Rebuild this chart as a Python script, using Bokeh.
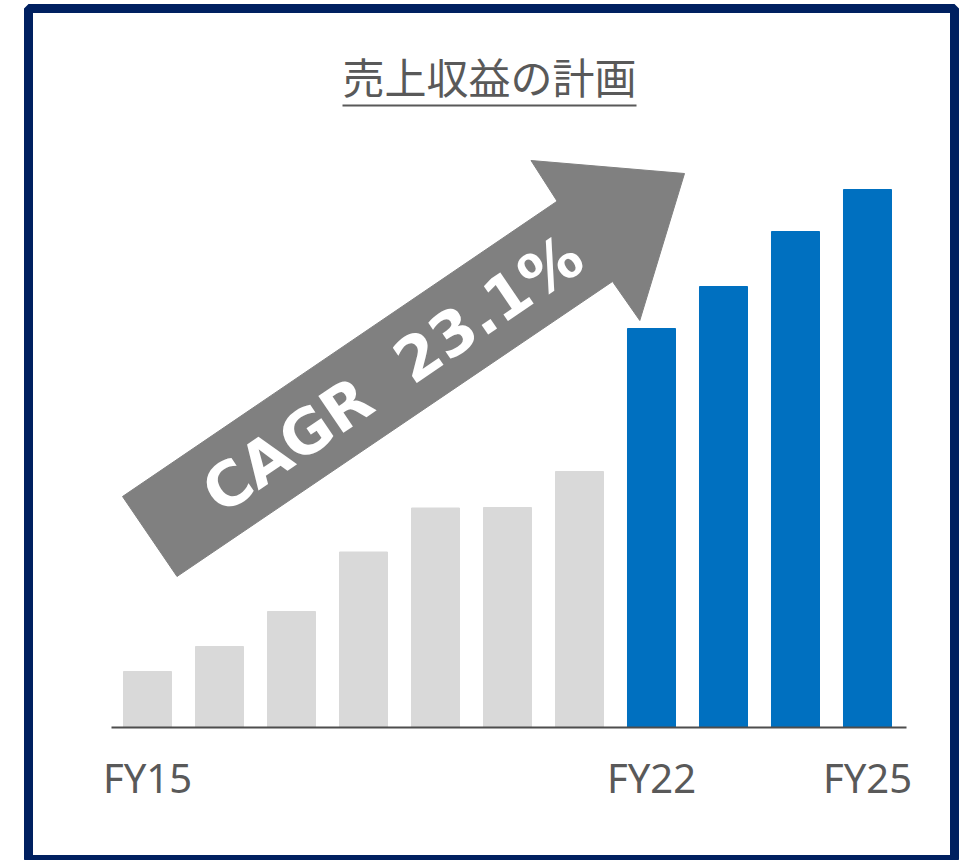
from bokeh.plotting import figure
from bokeh.models import Range1d, LinearAxis, FixedTicker, Label
from bokeh.embed import file_html
from bokeh.resources import INLINE

# ---------------- data ----------------
years = ["FY15", "FY16", "FY17", "FY18", "FY19", "FY20", "FY21",
         "FY22", "FY23", "FY24", "FY25"]
revenue = [55.5, 80.5, 115.5, 175.0, 219.0, 219.5, 255.5,
           398.5, 440.5, 495.5, 537.5]
phase = ["actual"] * 7 + ["plan"] * 4
labeled_years = ["FY15", "FY22", "FY25"]
title_text = "売上収益の計画"
cagr_text = "CAGR \u00a023.1%"

# ---------------- style ----------------
colors_by_phase = {"actual": "#D9D9D9", "plan": "#0070C0"}
NAVY = "#002060"
TEXT_GRAY = "#595959"

W, H = 961, 860
FL, FR, FT, FB = 28, 954, 8, 860   # frame edges in canvas pixels
X0_PAGE, X_STEP = 147.0, 72.0      # centre of first bar, bar pitch
Y0_PAGE = 726.5                    # baseline in canvas pixels


def dx(px):
    return (px - X0_PAGE) / X_STEP


def dy(py):
    return Y0_PAGE - py


p = figure(width=W, height=H, output_backend="svg", toolbar_location=None,
           x_range=Range1d(dx(FL), dx(FR)), y_range=Range1d(dy(FB), dy(FT)),
           x_axis_location=None, y_axis_location=None,
           min_border_left=FL, min_border_right=W - FR,
           min_border_top=FT, min_border_bottom=H - FB)
p.title.visible = False
p.grid.visible = False
p.background_fill_color = "white"
p.border_fill_color = "white"
p.outline_line_color = NAVY
p.outline_line_width = 9

idx = list(range(len(years)))
bar_colors = [colors_by_phase[ph] for ph in phase]
p.vbar(x=idx, top=revenue, bottom=0, width=0.667, color=bar_colors)

# arrow (decoration, canvas-pixel outline)
arrow_px = [(122, 496), (176.5, 576), (612, 281), (639.3, 320),
            (684, 173), (530.5, 160), (556.6, 200.7)]
p.patch([dx(a) for a, b in arrow_px], [dy(b) for a, b in arrow_px],
        color="#808080", line_color="#808080")

p.add_layout(Label(x=dx(392), y=dy(373), text=cagr_text,
                   angle=34.2, angle_units="deg",
                   text_font="DejaVu Sans", text_font_style="bold",
                   text_font_size="61px", text_color="white",
                   text_align="center", text_baseline="middle"))

# title + underline
p.add_layout(Label(x=dx(489), y=dy(75), text=title_text,
                   text_font="Noto Sans CJK JP", text_font_size="42px",
                   text_color=TEXT_GRAY, text_align="center",
                   text_baseline="middle"))
p.segment(x0=[dx(342)], y0=[dy(105)], x1=[dx(636)], y1=[dy(105)],
          line_color=TEXT_GRAY, line_width=2)

# x axis at the baseline
ticks = [years.index(y) for y in labeled_years]
xaxis = LinearAxis(fixed_location=0, ticker=FixedTicker(ticks=ticks),
                   major_label_overrides={t: years[t] for t in ticks},
                   bounds=(dx(111), dx(906)),
                   axis_line_color="#4D4D4D", axis_line_width=2,
                   major_tick_line_color=None, minor_tick_line_color=None,
                   major_tick_in=0, major_tick_out=0,
                   major_label_text_font="Noto Sans",
                   major_label_text_font_size="40px",
                   major_label_text_color=TEXT_GRAY,
                   major_label_standoff=23)
p.add_layout(xaxis, "below")

open("out.html", "w").write(file_html(p, INLINE))
